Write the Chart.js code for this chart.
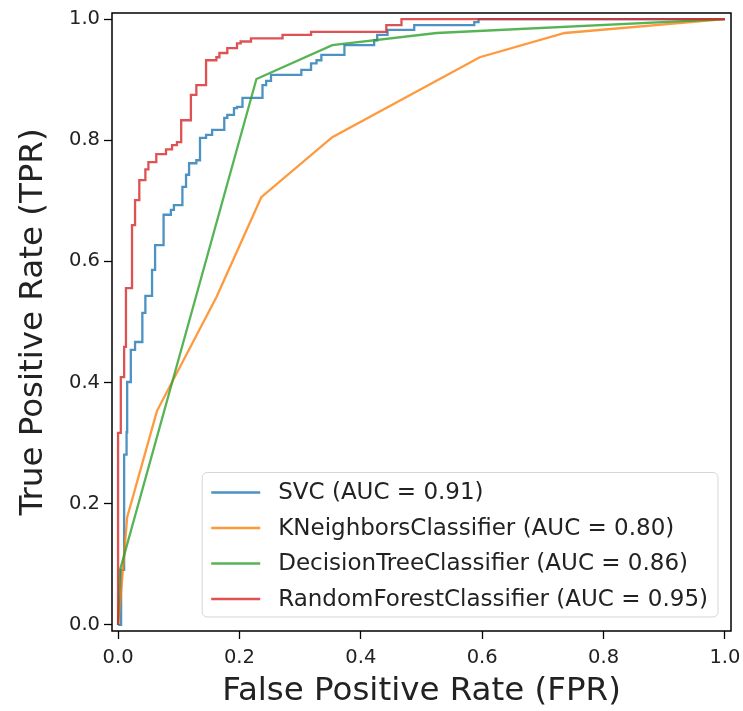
<!DOCTYPE html>
<html>
<head>
<meta charset="utf-8">
<script src="https://cdn.jsdelivr.net/npm/chart.js@4/dist/chart.umd.min.js"></script>
<style>
  html, body { margin: 0; padding: 0; background: #fff; }
  #wrap { width: 743px; height: 711px; }
</style>
</head>
<body>
<div id="wrap"><canvas id="roc" width="743" height="711"></canvas></div>
<script>
// ROC points (fpr / tpr pairs, corners of each step)
var svcFpr = [0, 0.005, 0.005, 0.010, 0.010, 0.014, 0.014, 0.015, 0.015, 0.021, 0.021, 0.028, 0.028, 0.040, 0.040, 0.045, 0.045, 0.056, 0.056, 0.061, 0.061, 0.075, 0.075, 0.087, 0.087, 0.092, 0.092, 0.106, 0.106, 0.112, 0.112, 0.117, 0.117, 0.129, 0.129, 0.135, 0.135, 0.145, 0.145, 0.155, 0.155, 0.175, 0.175, 0.180, 0.180, 0.191, 0.191, 0.196, 0.196, 0.205, 0.205, 0.238, 0.238, 0.244, 0.244, 0.252, 0.252, 0.302, 0.302, 0.318, 0.318, 0.327, 0.327, 0.335, 0.335, 0.373, 0.373, 0.422, 0.422, 0.427, 0.427, 0.444, 0.444, 0.488, 0.488, 0.587, 0.587, 0.594, 0.594, 1];
var svcTpr = [0, 0, 0.091, 0.091, 0.281, 0.281, 0.318, 0.318, 0.401, 0.401, 0.454, 0.454, 0.467, 0.467, 0.515, 0.515, 0.543, 0.543, 0.586, 0.586, 0.627, 0.627, 0.677, 0.677, 0.685, 0.685, 0.693, 0.693, 0.723, 0.723, 0.743, 0.743, 0.762, 0.762, 0.767, 0.767, 0.804, 0.804, 0.809, 0.809, 0.817, 0.817, 0.837, 0.837, 0.842, 0.842, 0.853, 0.853, 0.855, 0.855, 0.870, 0.870, 0.891, 0.891, 0.898, 0.898, 0.908, 0.908, 0.916, 0.916, 0.927, 0.927, 0.932, 0.932, 0.941, 0.941, 0.957, 0.957, 0.965, 0.965, 0.974, 0.974, 0.982, 0.982, 0.990, 0.990, 0.995, 0.995, 1, 1];

var knnFpr = [0, 0.005, 0.015, 0.064, 0.162, 0.236, 0.353, 0.596, 0.736, 1];
var knnTpr = [0, 0.055, 0.178, 0.353, 0.541, 0.706, 0.805, 0.937, 0.977, 1];

var dtFpr = [0, 0.003, 0.228, 0.353, 0.525, 1];
var dtTpr = [0, 0.090, 0.901, 0.957, 0.977, 1];

var rfFpr = [0, 0, 0.0045, 0.0045, 0.010, 0.010, 0.013, 0.013, 0.023, 0.023, 0.028, 0.028, 0.035, 0.035, 0.045, 0.045, 0.050, 0.050, 0.063, 0.063, 0.079, 0.079, 0.089, 0.089, 0.097, 0.097, 0.104, 0.104, 0.120, 0.120, 0.129, 0.129, 0.145, 0.145, 0.162, 0.162, 0.167, 0.167, 0.180, 0.180, 0.196, 0.196, 0.202, 0.202, 0.219, 0.219, 0.271, 0.271, 0.318, 0.318, 0.442, 0.442, 0.467, 0.467, 1];
var rfTpr = [0, 0.317, 0.317, 0.409, 0.409, 0.459, 0.459, 0.556, 0.556, 0.660, 0.660, 0.701, 0.701, 0.734, 0.734, 0.752, 0.752, 0.764, 0.764, 0.777, 0.777, 0.785, 0.785, 0.792, 0.792, 0.797, 0.797, 0.833, 0.833, 0.875, 0.875, 0.891, 0.891, 0.932, 0.932, 0.937, 0.937, 0.944, 0.944, 0.952, 0.952, 0.960, 0.960, 0.963, 0.963, 0.968, 0.968, 0.974, 0.974, 0.979, 0.979, 0.990, 0.990, 1, 1];

var labels = ["SVC (AUC = 0.91)", "KNeighborsClassifier (AUC = 0.80)", "DecisionTreeClassifier (AUC = 0.86)", "RandomForestClassifier (AUC = 0.95)"];
var colors = ["rgba(31,119,180,0.8)", "rgba(255,127,14,0.8)", "rgba(44,160,44,0.8)", "rgba(214,39,40,0.8)"];
var tickVals = [0, 0.2, 0.4, 0.6, 0.8, 1.0];

var FONT = "'DejaVu Sans', sans-serif";

function pts(xs, ys) {
	var out = [];
	for (var i = 0; i < xs.length; i++) out.push({x: xs[i], y: ys[i]});
	return out;
}

var series = [pts(svcFpr, svcTpr), pts(knnFpr, knnTpr), pts(dtFpr, dtTpr), pts(rfFpr, rfTpr)];

var datasets = series.map(function(d, i) {
	return {
		label: labels[i],
		data: d,
		showLine: true,
		borderColor: colors[i],
		backgroundColor: colors[i],
		borderWidth: 2.3,
		pointRadius: 0,
		tension: 0,
		order: 4 - i
	};
});

// spines + legend box like matplotlib
var frameAndLegend = {
	id: 'frameAndLegend',
	afterDatasetsDraw: function(chart) {
		var ctx = chart.ctx, a = chart.chartArea;
		ctx.save();
		ctx.strokeStyle = '#000';
		ctx.lineWidth = 1.5;
		ctx.strokeRect(a.left, a.top, a.right - a.left, a.bottom - a.top);

		var fs = 23;
		ctx.font = fs + "px " + FONT;
		var maxW = 0;
		labels.forEach(function(l) { maxW = Math.max(maxW, ctx.measureText(l).width); });
		var padL = 9, handle = 49, gap = 18, padR = 10, rowH = 35.5, padT = 20, padB = 18;
		var w = padL + handle + gap + maxW + padR;
		var h = padT + padB + rowH * (labels.length - 1);
		var right = a.right - 13, bottom = a.bottom - 14;
		var x0 = right - w, y0 = bottom - h;
		ctx.beginPath();
		ctx.roundRect(x0, y0, w, h, 5);
		ctx.fillStyle = 'rgba(255,255,255,0.8)';
		ctx.fill();
		ctx.strokeStyle = 'rgba(204,204,204,0.8)';
		ctx.lineWidth = 1;
		ctx.stroke();
		ctx.textBaseline = 'middle';
		ctx.textAlign = 'left';
		labels.forEach(function(l, i) {
			var cy = y0 + padT + rowH * i;
			ctx.beginPath();
			ctx.moveTo(x0 + padL, cy);
			ctx.lineTo(x0 + padL + handle, cy);
			ctx.strokeStyle = colors[i];
			ctx.lineWidth = 2.3;
			ctx.stroke();
			ctx.fillStyle = '#222';
			ctx.fillText(l, x0 + padL + handle + gap, cy + 1);
		});
		ctx.restore();
	}
};

function fixTicks(scale) {
	scale.ticks = tickVals.map(function(v) { return {value: v}; });
}

new Chart('roc', {
	type: 'scatter',
	data: { datasets: datasets },
	plugins: [frameAndLegend],
	options: {
		responsive: false,
		animation: false,
		layout: { padding: { left: 0, right: 12, top: 13, bottom: 0 } },
		plugins: { legend: { display: false }, tooltip: { enabled: false } },
		scales: {
			x: {
				type: 'linear',
				min: -0.01,
				max: 1.01,
				afterBuildTicks: fixTicks,
				afterFit: function(s) { s.height = 80; s.paddingLeft = 0; s.paddingRight = 0; },
				grid: { drawOnChartArea: false, drawTicks: true, tickLength: 8, color: '#000', tickWidth: 1.3 },
				border: { display: false },
				ticks: { color: '#222', padding: 7, font: { family: FONT, size: 19.5 }, callback: function(v) { return v.toFixed(1); }, maxRotation: 0 },
				title: { display: true, text: 'False Positive Rate (FPR)', color: '#222', font: { family: FONT, size: 32.5, lineHeight: 1.2 }, padding: { top: 0, bottom: 0 } }
			},
			y: {
				type: 'linear',
				min: -0.01,
				max: 1.01,
				afterBuildTicks: fixTicks,
				afterFit: function(s) { s.width = 112; s.paddingTop = 0; s.paddingBottom = 0; },
				grid: { drawOnChartArea: false, drawTicks: true, tickLength: 8, color: '#000', tickWidth: 1.3 },
				border: { display: false },
				ticks: { color: '#222', padding: 4, font: { family: FONT, size: 19.5 }, callback: function(v) { return v.toFixed(1); } },
				title: { display: true, text: 'True Positive Rate (TPR)', color: '#222', font: { family: FONT, size: 32.5, lineHeight: 1.2 }, padding: { top: 14, bottom: 0 } }
			}
		}
	}
});
</script>
</body>
</html>
